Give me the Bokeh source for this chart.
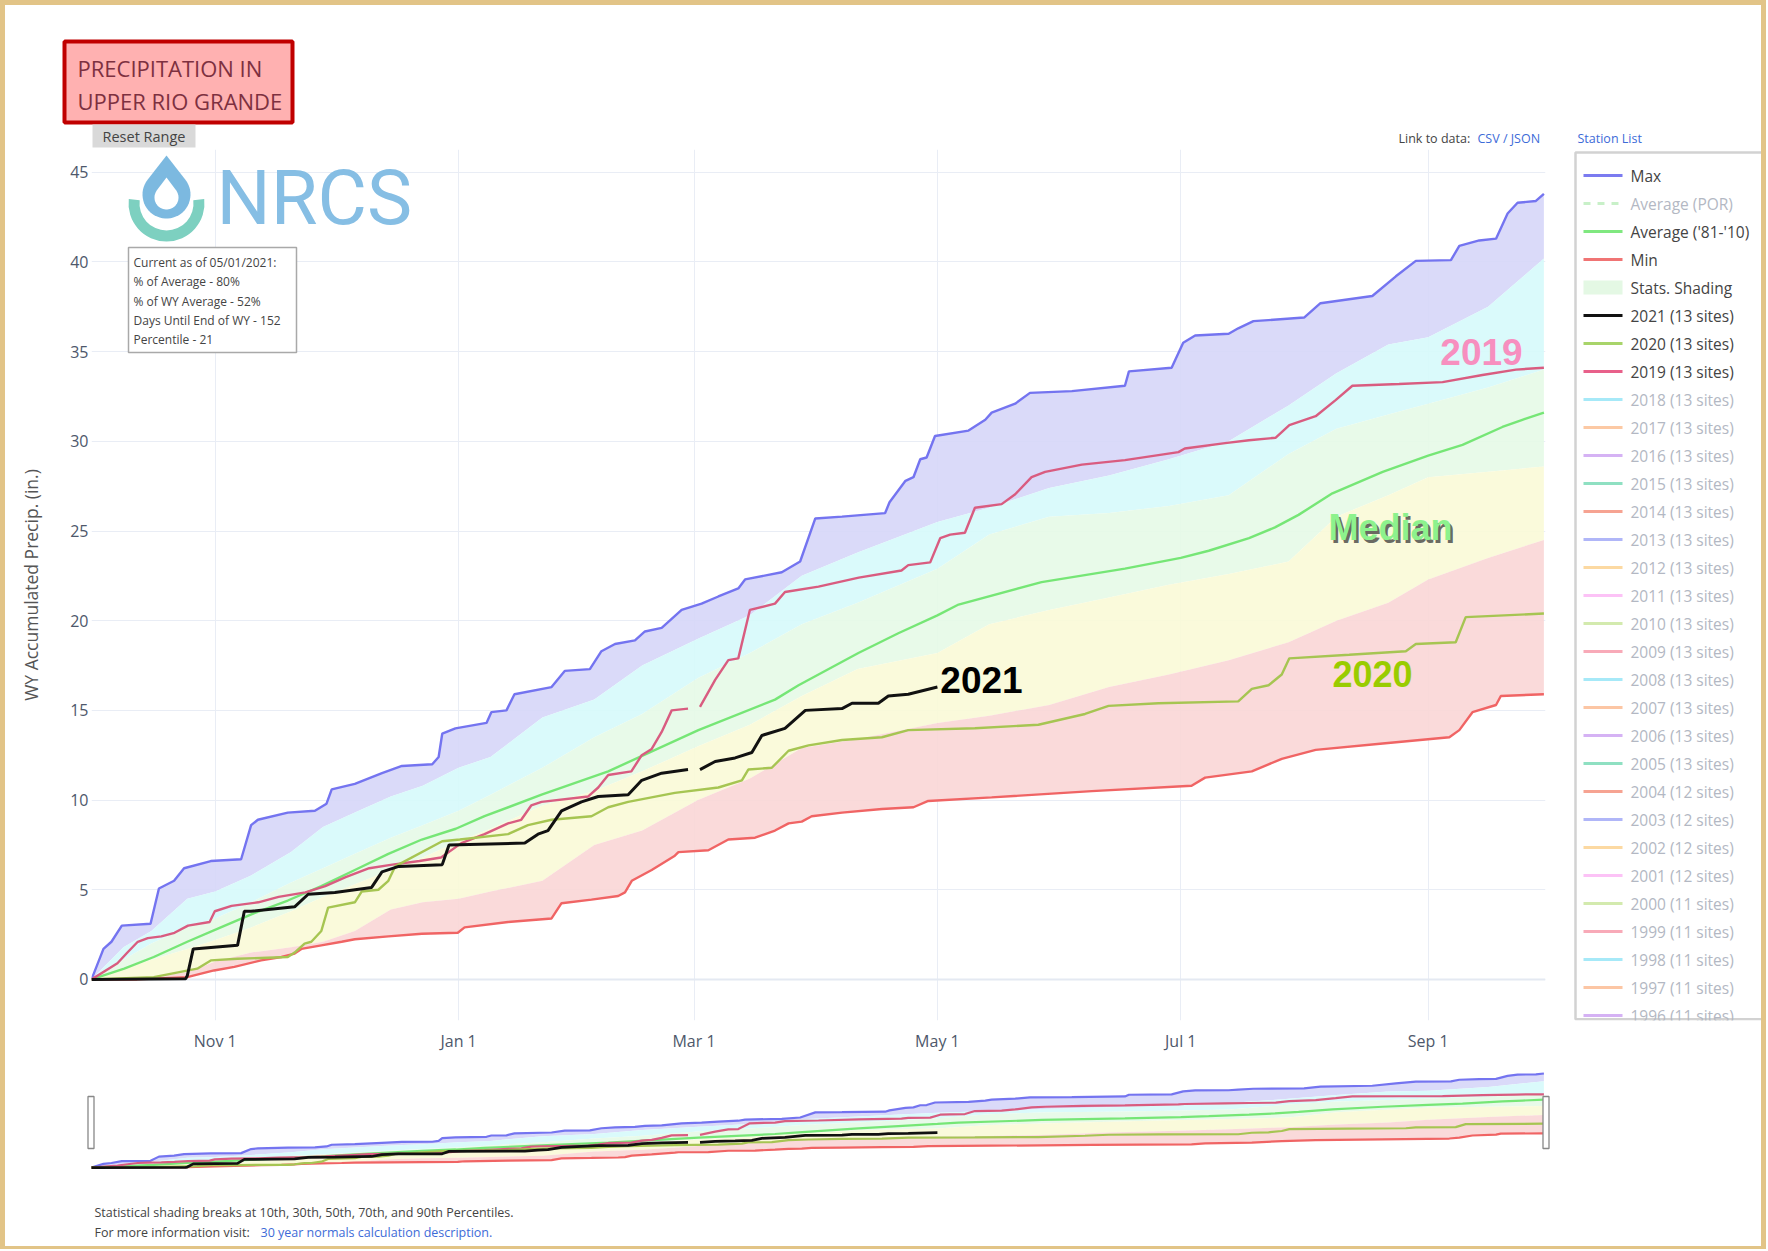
import numpy as np
from math import sin, cos, acos, pi
from bokeh.plotting import figure
from bokeh.models import Range1d, FixedTicker, Span, Spacer
from bokeh.layouts import column, row
from bokeh.embed import file_html
from bokeh.resources import INLINE
from bokeh.core.properties import value

NAN = float("nan")

# ---------------- data (day 0 = Oct 1, water year) ----------------
TICK_DAYS = [31, 92, 151, 212, 273, 335]
TICK_LABELS = ["Nov 1", "Jan 1", "Mar 1", "May 1", "Jul 1", "Sep 1"]
Y_TICKS = [0, 5, 10, 15, 20, 25, 30, 35, 40, 45]

MAX_DAYS = [0, 3, 5, 7.6, 14.8, 16.9, 20.7, 23.2, 29.9, 37.5, 40, 41.7, 49.2, 56, 58.9, 60.2, 66, 72.8, 77.8, 85.4,
            87, 87.9, 91.2, 99, 100.2, 104, 106, 115.3, 118.6, 124.9, 127.8, 131.2, 136.2, 138.7, 142.9, 147.9,
            152.9, 157.1, 162.1, 163.8, 173, 177.6, 181.4, 188.1, 198.9, 200, 204, 206, 207.7, 209.3, 211.4, 219.8,
            224, 225.6, 231.5, 235.2, 245.7, 259, 260, 270.7, 273.6, 276.6, 285, 287.4, 291.2, 303.9, 308, 321,
            326.9, 331.9, 340.7, 342.8, 347.8, 352, 354.9, 357.4, 362, 364]
MAX_VALS = [0, 1.7, 2.1, 3.0, 3.1, 5.07, 5.5, 6.2, 6.6, 6.7, 8.6, 8.9, 9.3, 9.4, 9.8, 10.6, 10.9, 11.5, 11.9, 12.0,
            12.4, 13.7, 14.0, 14.3, 14.9, 15.0, 15.9, 16.3, 17.2, 17.3, 18.3, 18.7, 18.9, 19.4, 19.6, 20.6,
            20.95, 21.35, 21.8, 22.3, 22.7, 23.3, 25.7, 25.8, 26.0, 26.6, 27.8, 28.0, 29.0, 29.1, 30.3, 30.6,
            31.2, 31.6, 32.1, 32.7, 32.8, 33.1, 33.9, 34.1, 35.5, 35.9, 36.0, 36.3, 36.7, 36.9, 37.7, 38.1,
            39.2, 40.06, 40.1, 40.9, 41.2, 41.3, 42.7, 43.3, 43.4, 43.8]

MIN_DAYS = [0, 11.4, 24, 30.7, 35.8, 42.5, 47.6, 50.9, 52.6, 57.6, 62.7, 66, 74.4, 82.8, 91.8, 93.5, 104.4, 115.3,
            117.8, 125.3, 132, 133.7, 135.4, 140.4, 146.2, 147.1, 154.6, 159.6, 166.3, 171.3, 174.7, 178, 180.5,
            188.1, 198.1, 206, 209.7, 225.6, 250.7, 275.7, 279.1, 290.8, 298.3, 306.8, 323.6, 340.3, 342.8,
            346.1, 352, 353.2, 364]
MIN_VALS = [0, 0, 0.13, 0.5, 0.7, 1.06, 1.25, 1.44, 1.7, 1.9, 2.1, 2.24, 2.4, 2.55, 2.6, 2.9, 3.2, 3.4,
            4.25, 4.45, 4.65, 4.85, 5.5, 6.1, 6.9, 7.1, 7.2, 7.8, 7.9, 8.3, 8.7, 8.8, 9.1,
            9.3, 9.5, 9.6, 9.95, 10.15, 10.5, 10.8, 11.25, 11.6, 12.3, 12.8, 13.15, 13.5, 13.9,
            14.9, 15.3, 15.8, 15.9]

AVG_DAYS = [0, 8.2, 15.6, 24, 32.4, 40.8, 49.2, 57.6, 66, 74.4, 82.8, 91.3, 98.5, 112.8, 129.5, 152.1, 171.3,
            177.2, 192.2, 202.2, 212, 217.3, 238.1, 259, 273, 280, 290.1, 296.6, 302.5, 311, 323.6, 335, 343.6,
            353.6, 358.6, 364]
AVG_VALS = [0, 0.6, 1.25, 2.1, 2.9, 3.7, 4.4, 5.2, 6.1, 7.0, 7.8, 8.4, 9.1, 10.3, 11.6, 13.9, 15.6,
            16.4, 18.2, 19.3, 20.3, 20.9, 22.15, 22.9, 23.5, 23.9, 24.6, 25.2, 25.9, 27.1, 28.3, 29.2, 29.8,
            30.8, 31.2, 31.6]

Y2021_DAYS = [0, 23.6, 24, 25.5, 36.6, 38.3, 40, 50.9, 54.3, 61, 70.2, 72.8, 77, 87.9, 89.6, 108.6, 111.9, 114.4,
              117.8, 122.8, 127, 134.5, 137.9, 142.9, 149.5, 151, 152.5, 156.3, 161.3, 165.5, 168, 173.8, 178.9,
              188.1, 190.6, 197.2, 199.7, 204.7, 212]
Y2021_VALS = [0, 0.04, 0.2, 1.7, 1.9, 3.8, 3.8, 4.05, 4.75, 4.85, 5.13, 6.0, 6.3, 6.4, 7.5, 7.6, 8.1, 8.3,
              9.4, 9.9, 10.2, 10.3, 11.1, 11.5, 11.7, NAN, 11.7, 12.15, 12.35, 12.65, 13.6, 14.0, 15.0,
              15.1, 15.4, 15.4, 15.8, 15.9, 16.3]

Y2020_DAYS = [0, 15.6, 26.5, 29.9, 36.6, 49.2, 50.9, 53.4, 55.1, 57.6, 59.3, 66, 67.7, 71.9, 74.4, 76.1, 87.9, 92.3,
              104.4, 109.4, 115.3, 125.3, 129.5, 134.5, 146.2, 157.1, 163, 164.6, 170.5, 174.7, 179.7, 188.1,
              198.1, 204.7, 221.4, 237.3, 249, 254.9, 267.4, 287.4, 290.8, 295, 298.3, 300.2, 315.2, 329.4,
              331.9, 341.9, 344.4, 364]
Y2020_VALS = [0, 0.13, 0.6, 1.06, 1.15, 1.25, 1.5, 2.0, 2.1, 2.7, 4.0, 4.3, 4.9, 5.0, 5.5, 6.3, 7.7, 7.8,
              8.1, 8.6, 8.9, 9.1, 9.6, 9.9, 10.4, 10.7, 11.1, 11.7, 11.8, 12.75, 13.05, 13.35,
              13.5, 13.9, 14.0, 14.2, 14.8, 15.25, 15.4, 15.5, 16.2, 16.4, 17.0, 17.9, 18.1, 18.3,
              18.7, 18.8, 20.2, 20.4]

Y2019_DAYS = [0, 6.5, 9, 11.6, 14.1, 17.5, 20.8, 24.2, 29.6, 30.9, 35.1, 41.8, 46.9, 53.6, 58.6, 63.7, 69.6, 75.4,
              82.2, 87.6, 92.7, 98.5, 104.4, 107.7, 110.2, 112.8, 124.5, 127, 129.5, 135.3, 137.9, 140.4, 142.9,
              145.4, 149.5, 151, 152.5, 156.3, 159.6, 162.1, 165, 171.3, 173.8, 182.2, 192.3, 203, 204.7, 210.2,
              212.7, 215.2, 218.9, 221.4, 228.1, 231.5, 235.6, 239, 248.2, 259, 272.4, 274, 284.1, 290.1, 296.8,
              300.2, 306.8, 311.8, 316, 327.7, 338.6, 348.6, 357, 364]
Y2019_VALS = [0, 0.9, 1.5, 2.1, 2.3, 2.4, 2.6, 3.0, 3.2, 3.8, 4.1, 4.3, 4.6, 4.85, 5.2, 5.7, 6.2, 6.4,
              6.6, 6.8, 7.6, 8.1, 8.7, 8.9, 9.7, 9.9, 10.2, 10.7, 11.4, 11.6, 12.5, 12.85, 13.8,
              15.0, 15.1, NAN, 15.2, 16.7, 17.8, 17.9, 20.6, 20.95, 21.6, 21.9, 22.4, 22.8, 23.1, 23.25,
              24.6, 24.8, 24.9, 26.3, 26.5, 27.05, 28.0, 28.3, 28.7, 28.95, 29.4, 29.6, 29.9, 30.06, 30.2,
              30.9, 31.4, 32.3, 33.1, 33.2, 33.3, 33.7, 34.0, 34.1]

# statistical shading boundaries (percentiles)
BAND_DAYS = [0, 8, 15, 24, 31, 40, 50, 58, 66, 75, 83, 92, 100, 113, 126, 138, 152, 165, 178, 192, 212, 225, 240,
             255, 270, 285, 300, 312, 325, 335, 350, 364]
P90 = [0, 1.8, 2.7, 4.5, 4.9, 5.8, 7.1, 8.5, 9.3, 10.2, 10.8, 11.8, 12.4, 14.6, 15.6, 17.5, 19.0, 20.3, 22.5, 23.8,
       25.5, 26.3, 27.4, 28.1, 29.0, 30.0, 32.0, 33.8, 35.4, 35.8, 37.5, 40.2]
P70 = [0, 1.1, 2.0, 2.9, 3.4, 4.3, 5.4, 6.2, 7.0, 7.9, 8.6, 9.4, 10.3, 11.8, 13.5, 14.8, 16.8, 18.2, 19.8, 21.0,
       22.9, 24.8, 25.8, 26.0, 26.4, 27.0, 29.3, 30.7, 31.5, 32.1, 33.0, 34.0]
P50 = [0, 0.6, 1.1, 1.7, 2.2, 2.9, 3.8, 4.6, 5.3, 6.1, 6.8, 7.7, 8.4, 9.7, 10.5, 11.6, 13.0, 14.2, 15.8, 17.3,
       18.2, 19.8, 20.6, 21.3, 22.0, 22.6, 23.3, 25.8, 27.0, 28.0, 28.3, 28.6]
P30 = [0, 0.05, 0.15, 0.4, 1.0, 1.5, 1.8, 2.1, 2.7, 3.9, 4.3, 4.5, 4.9, 5.5, 7.5, 8.3, 10.0, 11.2, 12.9, 13.4,
       14.3, 14.7, 15.3, 16.3, 17.0, 17.8, 18.8, 20.0, 21.0, 22.3, 23.5, 24.5]

LEGEND_LABELS = ["Max", "Average (POR)", "Average ('81-'10)", "Min", "Stats. Shading",
                 "2021 (13 sites)", "2020 (13 sites)", "2019 (13 sites)", "2018 (13 sites)", "2017 (13 sites)",
                 "2016 (13 sites)", "2015 (13 sites)", "2014 (13 sites)", "2013 (13 sites)", "2012 (13 sites)",
                 "2011 (13 sites)", "2010 (13 sites)", "2009 (13 sites)", "2008 (13 sites)", "2007 (13 sites)",
                 "2006 (13 sites)", "2005 (13 sites)", "2004 (12 sites)", "2003 (12 sites)", "2002 (12 sites)",
                 "2001 (12 sites)", "2000 (11 sites)", "1999 (11 sites)", "1998 (11 sites)", "1997 (11 sites)",
                 "1996 (11 sites)"]
LEGEND_COLORS = ["#7b7bf0", "#c8f0c8", "#80e880", "#f07474", "#e4f8e4",
                 "#111111", "#a8d46a", "#e8608a", "#a6e9f8", "#fcc9a4",
                 "#d5b2f4", "#8fe0c2", "#f6a392", "#b0b6f8", "#fcd9a2",
                 "#fcc2f6", "#d3eaae", "#f8aab8", "#a6e9f8", "#fcc6a4",
                 "#d5b2f4", "#8fe0c2", "#f6a392", "#b0b6f8", "#fcd9a2",
                 "#fcc2f6", "#d3eaae", "#f8aab8", "#a6e9f8", "#fcc6a4",
                 "#d5b2f4"]
LEGEND_ACTIVE = [1, 0, 1, 1, 1, 1, 1, 1] + [0] * 23

INFO_LINES = ["Current as of 05/01/2021:", "% of Average - 80%", "% of WY Average - 52%",
              "Days Until End of WY - 152", "Percentile - 21"]

# ---------------- styling ----------------
FONT = value("Open Sans")
BOLD = value("Liberation Sans")
C_MAX, C_MIN, C_AVG = "#7474f0", "#f06464", "#76e676"
C_2021, C_2020, C_2019 = "#111111", "#a6c552", "#d95c80"
F_LAV, F_CYAN, F_GREEN, F_YEL, F_PINK = "#d6d6f8", "#d6fafb", "#e6f9e7", "#fafad7", "#f9d6d6"
TAN = {"background-color": "#e2c487"}

OX, OY = 5, 5                      # page position of the white sheet
W_C = 1756                          # sheet width
HDR_H, MAIN_H, SL_H, FT_H = 144, 911, 125, 61
MAIN_W = 1555
LEG_W = W_C - MAIN_W
ML, MR, MT, MB = 86, 15, 0, 40
FW = MAIN_W - ML - MR
FH = MAIN_H - MT - MB
XR = (0.0, 364.4)
YR = (-2.29, 46.27)
PX0 = OX + ML            # page x of main frame left (91)
PY0 = OY + HDR_H + MT    # page y of main frame top (149)
PPD = FW / (XR[1] - XR[0])


def mx(px):
    return XR[0] + (px - PX0) / PPD


def my(py):
    return YR[1] - (py - PY0) * (YR[1] - YR[0]) / FH


def arr(a):
    return np.array(a, dtype=float)


def draw_data(fig, lw):
    def band(xa, ya, xb, yb, color):
        xs = np.concatenate([arr(xa), arr(xb)[::-1]])
        ys = np.concatenate([arr(ya), arr(yb)[::-1]])
        fig.patch(xs, ys, fill_color=color, fill_alpha=0.9, line_color=None)
    band(MAX_DAYS, MAX_VALS, BAND_DAYS, P90, F_LAV)
    band(BAND_DAYS, P90, BAND_DAYS, P70, F_CYAN)
    band(BAND_DAYS, P70, BAND_DAYS, P50, F_GREEN)
    band(BAND_DAYS, P50, BAND_DAYS, P30, F_YEL)
    band(BAND_DAYS, P30, MIN_DAYS, MIN_VALS, F_PINK)
    fig.line(arr(MAX_DAYS), arr(MAX_VALS), line_color=C_MAX, line_width=lw)
    fig.line(arr(AVG_DAYS), arr(AVG_VALS), line_color=C_AVG, line_width=lw)
    fig.line(arr(MIN_DAYS), arr(MIN_VALS), line_color=C_MIN, line_width=lw)
    fig.line(arr(Y2019_DAYS), arr(Y2019_VALS), line_color=C_2019, line_width=lw)
    fig.line(arr(Y2020_DAYS), arr(Y2020_VALS), line_color=C_2020, line_width=lw)
    fig.line(arr(Y2021_DAYS), arr(Y2021_VALS), line_color=C_2021, line_width=lw * 1.25)


def blank(width, height, xr, yr, **kw):
    f = figure(width=width, height=height, x_range=Range1d(*xr), y_range=Range1d(*yr),
               output_backend="svg", toolbar_location=None, tools="", x_axis_type=None, y_axis_type=None,
               min_border=0, outline_line_color=None, background_fill_color="white",
               border_fill_color="white", frame_align=False, **kw)
    f.grid.visible = False
    return f


# ---------------- header ----------------
hdr = blank(W_C, HDR_H, (OX, OX + W_C), (OY + HDR_H, OY))
hdr.quad(left=[64], right=[292], top=[41], bottom=[122], fill_color="#ffb1b1", line_color="#c00000", line_width=4)
hdr.text(x=[77, 77], y=[67, 100], text=["PRECIPITATION IN", "UPPER RIO GRANDE"], text_font=FONT,
         text_font_size="22px", text_color="#7d3040", text_baseline="middle", text_align="left")
hdr.quad(left=[92], right=[195], top=[124], bottom=[147], fill_color="#d9d9d9", line_color=None)
hdr.text(x=[143.5], y=[135.5], text=["Reset Range"], text_font=FONT, text_font_size="14.5px",
         text_color="#444444", text_align="center", text_baseline="middle")
hdr.text(x=[1398], y=[138], text=["Link to data:"], text_font=FONT, text_font_size="12.5px",
         text_color="#444444", text_baseline="middle")
hdr.text(x=[1477, 1577], y=[138, 138], text=["CSV / JSON", "Station List"], text_font=FONT,
         text_font_size="12.5px", text_color="#3d6bd8", text_baseline="middle")

# ---------------- main plot ----------------
p = figure(width=MAIN_W, height=MAIN_H, x_range=Range1d(*XR), y_range=Range1d(*YR),
           output_backend="svg", toolbar_location=None, tools="", frame_align=False,
           min_border_left=ML, min_border_right=MR, min_border_top=MT, min_border_bottom=MB,
           outline_line_color=None, background_fill_color="white", border_fill_color="white")
p.xaxis.ticker = FixedTicker(ticks=TICK_DAYS)
p.xaxis.major_label_overrides = {d: lab for d, lab in zip(TICK_DAYS, TICK_LABELS)}
p.yaxis.ticker = FixedTicker(ticks=Y_TICKS)
for ax in (p.xaxis[0], p.yaxis[0]):
    ax.axis_line_color = None
    ax.major_tick_line_color = None
    ax.minor_tick_line_color = None
    ax.major_tick_in = 0
    ax.major_tick_out = 0
    ax.major_label_text_font = "Open Sans"
    ax.major_label_text_font_size = "16px"
    ax.major_label_text_color = "#4e586b"
p.yaxis.major_label_standoff = 3
p.xaxis.major_label_standoff = 9
p.yaxis.axis_label = "WY Accumulated Precip. (in.)"
p.yaxis.axis_label_text_font = "Open Sans"
p.yaxis.axis_label_text_font_style = "normal"
p.yaxis.axis_label_text_font_size = "17.5px"
p.yaxis.axis_label_text_color = "#555555"
p.yaxis.axis_label_standoff = 24
p.grid.grid_line_color = "#e9edf5"
p.grid.grid_line_width = 1
p.add_layout(Span(location=0, dimension="width", line_color="#e4e9f2", line_width=2, level="underlay"))

draw_data(p, 2.4)

# annotations on the plot
p.text(x=[mx(1481)], y=[my(351)], text=["2019"], text_font=BOLD, text_font_style="bold",
       text_font_size="37px", text_color="#f78fbf", text_align="center", text_baseline="middle")
p.text(x=[mx(1392.5)], y=[my(529.5)], text=["Median"], text_font=BOLD, text_font_style="bold",
       text_font_size="36px", text_color="#3a3a3a", text_alpha=0.75, text_align="center",
       text_baseline="middle")
p.text(x=[mx(1390)], y=[my(527)], text=["Median"], text_font=BOLD, text_font_style="bold",
       text_font_size="36px", text_color="#8df28d", text_align="center", text_baseline="middle")
p.text(x=[mx(1372)], y=[my(673)], text=["2020"], text_font=BOLD, text_font_style="bold",
       text_font_size="36px", text_color="#99cc00", text_align="center", text_baseline="middle")
p.text(x=[mx(981)], y=[my(679)], text=["2021"], text_font=BOLD, text_font_style="bold",
       text_font_size="37px", text_color="#000000", text_align="center", text_baseline="middle")

# NRCS logo
p.annular_wedge(x=[mx(166)], y=[my(203)], inner_radius=27, outer_radius=38,
                inner_radius_units="screen", outer_radius_units="screen",
                start_angle=pi - 0.12, end_angle=2 * pi + 0.12, fill_color="#7dd0c0", line_color=None)


def drop(cx, cy, r, apex_y):
    d = cy - apex_y
    a0 = acos(r / d)
    angs = np.linspace(a0, 2 * pi - a0, 40)
    xs = [cx] + [cx + r * sin(a) for a in angs]
    ys = [apex_y] + [cy - r * cos(a) for a in angs]
    return [mx(v) for v in xs], [my(v) for v in ys]


dx, dy = drop(166, 194, 24, 155)
p.patch(dx, dy, fill_color="#7cb9e0", line_color=None)
dx, dy = drop(166, 197, 12, 177)
p.patch(dx, dy, fill_color="white", line_color=None)
p.text(x=[mx(216)], y=[my(197)], text=["NRCS"], text_font=value("Roboto"), text_font_size="76px",
       text_color="#86bee4", text_align="left", text_baseline="middle")

# info box
p.quad(left=[mx(128)], right=[mx(296)], top=[my(247)], bottom=[my(352)], fill_color="white",
       line_color="#a9a9a9", line_width=1.5)
p.text(x=[mx(133)] * len(INFO_LINES), y=[my(262 + 19.3 * i) for i in range(len(INFO_LINES))],
       text=INFO_LINES, text_font=FONT, text_font_size="12px", text_color="#444444",
       text_baseline="middle", text_align="left")

# ---------------- legend ----------------
LG_X0 = OX + MAIN_W
lg = blank(LEG_W, MAIN_H, (LG_X0, LG_X0 + LEG_W), (PY0 + FH, PY0), min_border_bottom=MB)
lg.quad(left=[1575], right=[1790], top=[152], bottom=[PY0 + FH - 1.2], fill_color="white",
        line_color="#d2d2d2", line_width=2.5)
n = len(LEGEND_LABELS)
ys = [175 + 28.0 * i for i in range(n)]
solid = [i for i in range(n) if i not in (1, 4)]
lg.segment(x0=[1583] * len(solid), x1=[1622] * len(solid), y0=[ys[i] for i in solid],
           y1=[ys[i] for i in solid], line_color=[LEGEND_COLORS[i] for i in solid], line_width=3)
lg.segment(x0=[1583], x1=[1622], y0=[ys[1]], y1=[ys[1]], line_color=LEGEND_COLORS[1], line_width=3,
           line_dash="7 7")
lg.quad(left=[1583], right=[1622], top=[ys[4] - 7], bottom=[ys[4] + 7], fill_color=LEGEND_COLORS[4],
        line_color=None)
lg.text(x=[1630] * n, y=ys, text=LEGEND_LABELS, text_font=FONT, text_font_size="15.5px",
        text_color=["#444444" if LEGEND_ACTIVE[i] else "#b3b8c3" for i in range(n)], text_baseline="middle",
        text_align="left")

# ---------------- range slider ----------------
SL_L, SL_FW = 80 - OX, 1476
SX = (XR[0] + (OX + SL_L - PX0) / PPD, XR[0] + (OX + SL_L + SL_FW - PX0) / PPD)
SL_PPU = 2.146
SL_TOP = OY + HDR_H + MAIN_H
SY = ((1167 - (SL_TOP + SL_H)) / SL_PPU, (1167 - SL_TOP) / SL_PPU)
sl = blank(W_C, SL_H, SX, SY, min_border_left=SL_L, min_border_right=W_C - SL_L - SL_FW)
draw_data(sl, 2.2)


def sx(px):
    return XR[0] + (px - PX0) / PPD


def sy(py):
    return (1167 - py) / SL_PPU


sl.quad(left=[sx(87.5), sx(1542.5)], right=[sx(93.5), sx(1548.5)], top=[sy(1096)] * 2, bottom=[sy(1148)] * 2,
        fill_color="white", line_color="#888888", line_width=1.3)

# ---------------- footer ----------------
FT_TOP = SL_TOP + SL_H
ft = blank(W_C, FT_H, (OX, OX + W_C), (FT_TOP + FT_H, FT_TOP))
ft.text(x=[94, 94], y=[1212, 1232],
        text=["Statistical shading breaks at 10th, 30th, 50th, 70th, and 90th Percentiles.",
              "For more information visit:"],
        text_font=FONT, text_font_size="12.5px", text_color="#444444", text_baseline="middle")
ft.text(x=[260], y=[1232], text=["30 year normals calculation description."], text_font=FONT,
        text_font_size="12.5px", text_color="#3d6bd8", text_baseline="middle")

sheet = column(hdr, row(p, lg), sl, ft)
H_C = HDR_H + MAIN_H + SL_H + FT_H
layout = column(Spacer(width=OX * 2 + W_C, height=OY, styles=TAN),
                row(Spacer(width=OX, height=H_C, styles=TAN), sheet, Spacer(width=OX, height=H_C, styles=TAN)),
                Spacer(width=OX * 2 + W_C, height=3, styles=TAN))
html = file_html(layout, INLINE, title="Precipitation in Upper Rio Grande")
html = html.replace("<body>", '<body style="background-color:#e2c487;">', 1)
open("out.html", "w").write(html)
